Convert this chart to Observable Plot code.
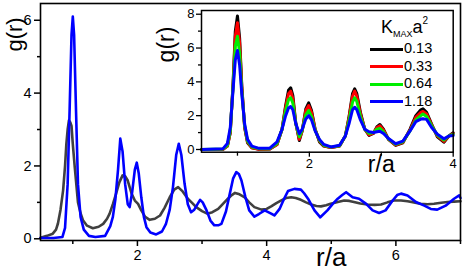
<!DOCTYPE html>
<html>
<head>
<meta charset="utf-8">
<script src="https://cdn.jsdelivr.net/npm/d3@7"></script>
<script src="https://cdn.jsdelivr.net/npm/@observablehq/plot@0.6"></script>
<style>
  body { margin: 0; background: white; }
  #wrap { position: relative; width: 463px; height: 278px; overflow: hidden; font-family: "Liberation Sans", Arial, sans-serif; }
  #wrap svg { position: absolute; top: 0; max-width: none; }
  .lg { position: absolute; font-size: 14.5px; line-height: 1; color: #000; white-space: nowrap; }
  .sw { position: absolute; height: 3px; width: 33px; }
</style>
</head>
<body>
<div id="wrap"></div>
<script>
// ---------- main panel data ----------
const blueX = [0.50,0.70,0.84,0.88,0.92,0.95,0.98,1.00,1.02,1.05,1.08,1.12,1.17,1.25,1.35,1.50,1.58,1.62,1.66,1.70,1.735,1.77,1.81,1.85,1.88,1.92,1.96,1.99,2.02,2.06,2.10,2.14,2.20,2.29,2.38,2.44,2.50,2.55,2.60,2.64,2.68,2.73,2.78,2.83,2.88,2.93,2.97,3.01,3.07,3.13,3.19,3.25,3.30,3.37,3.43,3.48,3.53,3.57,3.61,3.67,3.73,3.81,3.88,3.97,4.07,4.12,4.20,4.27,4.33,4.43,4.53,4.58,4.64,4.74,4.83,4.94,5.02,5.10,5.17,5.23,5.33,5.43,5.54,5.64,5.74,5.84,5.95,6.02,6.08,6.18,6.31,6.44,6.54,6.64,6.77,6.90,6.98,7.00];
const blueY = [0.02,0.02,0.05,0.3,1.5,3.5,5.6,6.1,5.6,3.5,1.5,0.6,0.25,0.08,0.05,0.08,0.35,0.6,1.1,1.9,2.75,2.4,1.5,0.95,0.87,1.3,1.9,2.09,1.8,1.14,0.6,0.32,0.17,0.12,0.2,0.4,0.8,1.42,2.3,2.61,2.3,1.51,0.95,0.73,0.8,0.95,1.07,1.0,0.78,0.5,0.37,0.37,0.41,0.75,1.24,1.65,1.83,1.78,1.6,1.15,0.78,0.61,0.68,0.78,0.69,0.64,0.82,1.1,1.31,1.37,1.35,1.25,1.10,0.78,0.59,0.78,0.95,1.10,1.2,1.28,1.14,1.10,0.96,0.78,0.71,0.78,1.05,1.2,1.24,1.19,1.01,0.91,0.82,0.80,0.91,1.10,1.19,1.12];
const grayX = [0.50,0.60,0.69,0.74,0.77,0.81,0.85,0.88,0.90,0.92,0.94,0.96,0.98,1.00,1.03,1.08,1.12,1.16,1.22,1.31,1.40,1.47,1.53,1.57,1.62,1.67,1.72,1.77,1.81,1.85,1.91,1.96,2.01,2.06,2.12,2.19,2.27,2.35,2.42,2.50,2.57,2.63,2.70,2.78,2.85,2.91,3.00,3.08,3.16,3.25,3.32,3.40,3.46,3.51,3.58,3.66,3.73,3.81,3.92,4.00,4.07,4.15,4.22,4.30,4.38,4.45,4.53,4.61,4.69,4.77,4.84,4.92,4.99,5.10,5.20,5.28,5.35,5.45,5.56,5.67,5.77,5.87,5.97,6.08,6.18,6.28,6.38,6.49,6.59,6.70,6.80,6.90,7.00];
const grayY = [0.03,0.08,0.14,0.25,0.42,0.8,1.33,2.0,2.6,3.0,3.25,3.2,3.1,2.6,1.97,1.0,0.7,0.5,0.36,0.29,0.33,0.41,0.55,0.69,0.95,1.24,1.55,1.74,1.72,1.6,1.24,1.05,0.96,0.78,0.6,0.52,0.55,0.64,0.85,1.14,1.35,1.42,1.3,1.10,0.98,0.87,0.76,0.69,0.73,0.82,0.95,1.10,1.2,1.26,1.22,1.14,1.0,0.87,0.80,0.82,0.89,0.98,1.05,1.12,1.14,1.12,1.07,1.0,0.94,0.9,0.89,0.92,0.96,1.01,1.05,1.04,1.01,0.97,0.94,0.93,0.94,1.0,1.05,1.05,1.03,1.0,0.96,0.95,0.96,0.99,1.01,1.02,1.03];

// ---------- inset data (K_MAX a^2 series) ----------
const insetX = [0.50,0.80,0.86,0.90,0.94,0.97,1.00,1.03,1.06,1.10,1.14,1.20,1.30,1.45,1.55,1.62,1.67,1.71,1.74,1.77,1.81,1.86,1.90,1.95,1.99,2.03,2.08,2.14,2.20,2.30,2.42,2.50,2.55,2.60,2.63,2.66,2.71,2.77,2.83,2.89,2.94,2.98,3.03,3.10,3.20,3.30,3.40,3.48,3.55,3.58,3.63,3.70,3.78,3.87,3.94,4.00];
const g013 = [0.0,0.02,0.2,1.0,4.0,7.0,7.9,6.6,3.8,1.3,0.4,0.1,0.02,0.03,0.3,1.2,2.6,3.5,3.65,3.2,1.6,0.53,1.1,2.4,2.76,2.3,1.2,0.45,0.2,0.12,0.2,0.8,1.9,3.3,3.59,3.3,2.2,1.2,0.83,0.95,1.35,1.48,1.2,0.6,0.24,0.4,1.2,2.0,2.35,2.41,2.2,1.5,0.75,0.43,0.8,0.99];
const g033 = [0.0,0.02,0.2,1.0,3.9,6.7,7.5,6.3,3.7,1.3,0.45,0.1,0.02,0.03,0.3,1.2,2.5,3.3,3.45,3.0,1.55,0.6,1.1,2.3,2.6,2.2,1.2,0.5,0.22,0.12,0.2,0.8,1.85,3.15,3.45,3.15,2.1,1.2,0.86,0.97,1.3,1.4,1.15,0.6,0.26,0.42,1.15,1.9,2.2,2.25,2.1,1.45,0.8,0.48,0.8,0.95];
const g064 = [0.0,0.03,0.25,1.1,3.8,6.1,6.7,5.7,3.5,1.4,0.5,0.15,0.05,0.05,0.35,1.2,2.3,2.95,3.06,2.75,1.55,0.75,1.15,2.05,2.3,1.95,1.15,0.55,0.25,0.14,0.22,0.8,1.7,2.8,3.06,2.85,1.95,1.2,0.95,1.0,1.2,1.25,1.05,0.62,0.3,0.45,1.1,1.75,2.0,2.1,1.95,1.4,0.85,0.55,0.8,0.9];
const g118 = [0.0,0.05,0.35,1.3,3.6,5.3,5.85,5.0,3.3,1.5,0.6,0.2,0.07,0.08,0.45,1.2,2.0,2.45,2.54,2.35,1.55,0.93,1.2,1.8,2.0,1.75,1.1,0.6,0.3,0.15,0.25,0.8,1.5,2.35,2.5,2.35,1.75,1.2,1.05,1.0,1.05,1.08,0.95,0.65,0.34,0.5,1.1,1.65,1.8,1.82,1.78,1.3,0.9,0.63,0.8,0.83];
const seriesLabels = ["0.13","0.33","0.64","1.18"];
const seriesColors = ["#000000","#ff0000","#00ee00","#0000ff"];

// ---------- ticks ----------
const mainXMajor = [2,4,6], mainXMinor = [1,3,5,7];
const mainYMajor = [0,2,4,6], mainYMinor = [1,3,5];
const insXMajor = [2,4], insXMinor = [1,3];
const insYMajor = [0,2,4,6,8], insYMinor = [1,3,5,7];

const FONT = "'Liberation Sans', Arial, sans-serif";
const intFmt = d => String(d);
const blueData = blueX.map((x,i) => ({x, y: blueY[i]}));
const grayData = grayX.map((x,i) => ({x, y: grayY[i]}));

const main = Plot.plot({
  width: 463, height: 278,
  marginLeft: 40, marginRight: 3, marginTop: 3, marginBottom: 38,
  x: {domain: [0.5, 7.0]},
  y: {domain: [-0.047, 6.46]},
  style: {fontFamily: FONT, fontSize: "14.5px", color: "#000", background: "white"},
  marks: [
    Plot.line(grayData, {x: "x", y: "y", stroke: "#404040", strokeWidth: 2.6}),
    Plot.line(blueData, {x: "x", y: "y", stroke: "#0000ff", strokeWidth: 2.6}),
    Plot.frame({stroke: "#000", strokeWidth: 1.6}),
    Plot.axisX({ticks: mainXMajor, tickSize: 6, tickPadding: 3, strokeWidth: 1.5, label: null, tickFormat: intFmt, fontSize: 14.5}),
    Plot.axisX({ticks: mainXMinor, tickSize: 4, strokeWidth: 1.5, tickFormat: () => "", label: null}),
    Plot.axisY({ticks: mainYMajor, tickSize: 6, tickPadding: 3, strokeWidth: 1.5, label: null, tickFormat: intFmt, fontSize: 14.5}),
    Plot.axisY({ticks: mainYMinor, tickSize: 3, strokeWidth: 1.5, tickFormat: () => "", label: null}),
    Plot.text(["r/a"], {x: 5, frameAnchor: "bottom", dy: 25, fontSize: 26}),
    Plot.text(["g(r)"], {y: 5.14, frameAnchor: "left", dx: -26, rotate: -90, fontSize: 22})
  ]
});
main.style.left = "0px";
document.getElementById("wrap").appendChild(main);

const insetData = [];
[g013, g033, g064, g118].forEach((arr, k) => arr.forEach((y, i) => insetData.push({x: insetX[i], y, k: seriesLabels[k]})));

const inset = Plot.plot({
  width: 310, height: 185,
  marginLeft: 51, marginRight: 7.3, marginTop: 10, marginBottom: 33.3,
  x: {domain: [0.5, 4.0]},
  y: {domain: [-0.16, 8.22]},
  color: {domain: seriesLabels, range: seriesColors},
  style: {fontFamily: FONT, fontSize: "13px", color: "#000", background: "transparent"},
  marks: [
    Plot.frame({fill: "white"}),
    Plot.line(insetData, {x: "x", y: "y", z: "k", stroke: "k", strokeWidth: 3}),
    Plot.frame({stroke: "#000", strokeWidth: 1.5}),
    Plot.axisX({ticks: insXMajor, tickSize: 5, tickPadding: 2, strokeWidth: 1.3, label: null, tickFormat: intFmt, fontSize: 13}),
    Plot.axisX({ticks: insXMinor, tickSize: 4, strokeWidth: 1.3, tickFormat: () => "", label: null}),
    Plot.axisY({ticks: insYMajor, tickSize: 5, tickPadding: 2, strokeWidth: 1.3, label: null, tickFormat: intFmt, fontSize: 13}),
    Plot.axisY({ticks: insYMinor, tickSize: 3, strokeWidth: 1.3, tickFormat: () => "", label: null}),
    Plot.text(["r/a"], {x: 3.0, frameAnchor: "bottom", dy: 20, fontSize: 23}),
    Plot.text(["g(r)"], {y: 5.15, frameAnchor: "left", dx: -35, rotate: -90, fontSize: 23})
  ]
});
inset.style.left = "150px";
document.getElementById("wrap").appendChild(inset);

// legend
const wrap = document.getElementById("wrap");
const title = document.createElement("div");
title.className = "lg";
title.style.left = "381px"; title.style.top = "16px"; title.style.fontSize = "18px";
title.innerHTML = 'K<sub style="font-size:9px;vertical-align:-4px">MAX</sub>a<sup style="font-size:10px;vertical-align:9px">2</sup>';
wrap.appendChild(title);
const rowY = [49, 66.7, 84.3, 101.7];
seriesLabels.forEach((lab, i) => {
  const sw = document.createElement("div");
  sw.className = "sw";
  sw.style.left = "370px"; sw.style.top = (rowY[i] - 1.5) + "px"; sw.style.background = seriesColors[i];
  wrap.appendChild(sw);
  const t = document.createElement("div");
  t.className = "lg";
  t.style.left = "404px"; t.style.top = (rowY[i] - 8) + "px";
  t.textContent = lab;
  wrap.appendChild(t);
});
</script>
</body>
</html>
